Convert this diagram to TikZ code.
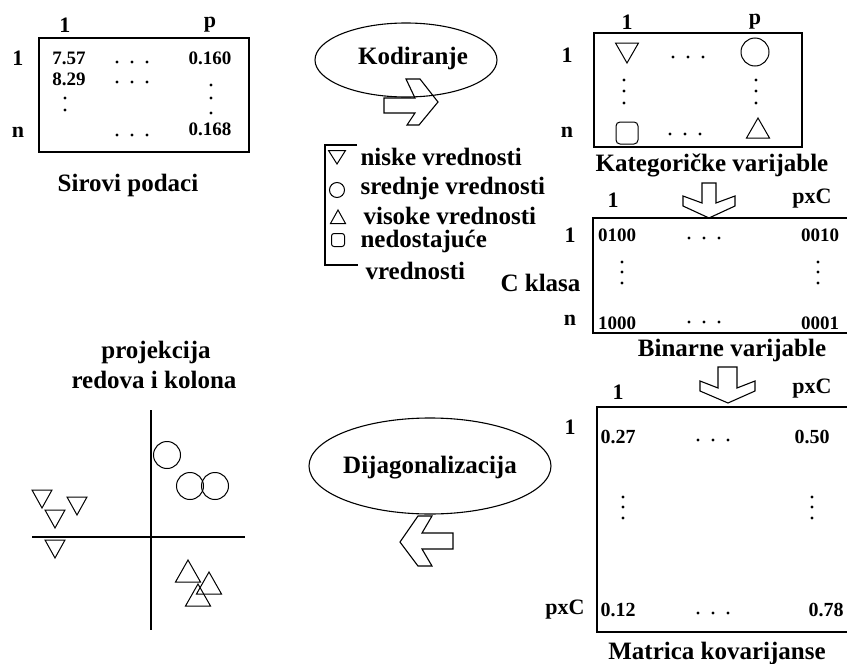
\documentclass[tikz,border=0pt]{standalone}
\usepackage{fontspec}
\setmainfont{Liberation Serif}
\usetikzlibrary{shapes.geometric}
\newcommand\hdts[2]{\foreach \d in {-15,0,15}{\fill ({#1+\d},{#2}) circle[radius=1.6pt];}}
\newcommand\vdts[4]{\foreach \yy in {#2,#3,#4}{\fill (#1,\yy) circle[radius=1.6pt];}}
\begin{document}
\begin{tikzpicture}[x=1pt,y=-1pt,line width=1.1pt,
 lab/.style={font=\bfseries\fontsize{25}{27}\selectfont, inner sep=0pt},
 hdr/.style={font=\bfseries\fontsize{22}{24}\selectfont, inner sep=0pt},
 val/.style={font=\bfseries\fontsize{19}{21}\selectfont, inner sep=0pt},
 valb/.style={font=\bfseries\fontsize{20}{22}\selectfont, inner sep=0pt},
 leg/.style={font=\bfseries\fontsize{25}{27}\selectfont, inner sep=0pt, anchor=west},
 ell/.style={draw, ellipse, inner sep=0pt},
 sym/.style={line width=1pt},
]
\useasboundingbox (0,0) rectangle (847,664);

% ---------- Sirovi podaci ----------
\draw (39,38) rectangle (249,152);
\node[hdr] (a1) at (65,25) {1};
\node[hdr] (ap) at (210,25) {p};
\node[hdr] (ar1) at (18,58) {1};
\node[hdr] (arn) at (18,132) {n};
\node[val] (a11) at (69,58) {7.57};
\node[val] (a21) at (69,79) {8.29};
\node[val] (a1p) at (210,58) {0.160};
\node[val] (anp) at (210,129) {0.168};
\hdts{132}{62}
\hdts{132}{82}
\hdts{132}{135}
\fill (65,98) circle[radius=1.6pt];
\fill (65,110) circle[radius=1.6pt];
\vdts{211}{85}{98}{113}
\node[lab] (sirovi) at (128,185) {Sirovi podaci};

% ---------- Kodiranje ----------
\node[ell, minimum width=182pt, minimum height=74pt] (kod) at (406,60) {};
\node[lab] (kodt) at (413,58) {Kodiranje};
\draw[line join=miter] (384,98) -- (415,98) -- (406,79) -- (420,79) -- (438,102) -- (419,125) -- (407,125) -- (415,113) -- (384,113) -- cycle;

% ---------- Legend ----------
\draw (357,145) -- (325,145) -- (325,265) -- (358,265);
\draw[sym] (328.5,150.5) -- (345.5,150.5) -- (337,164) -- cycle;
\draw[sym] (337,190) circle[radius=7.5pt];
\draw[sym] (338,210) -- (345.5,223.5) -- (330.5,223.5) -- cycle;
\draw[sym, rounded corners=2.5pt] (331.5,233.5) rectangle (344.5,246.5);
\node[leg] (l1) at (360,157) {niske vrednosti};
\node[leg] (l2) at (360,188) {srednje vrednosti};
\node[leg] (l3) at (363,216) {visoke vrednosti};
\node[leg] (l4) at (360,241) {nedostajuće};
\node[leg] (l5) at (365,271) {vrednosti};

% ---------- Kategoricke varijable ----------
\draw (594,33) rectangle (802,147);
\node[hdr] (b1) at (627,22) {1};
\node[hdr] (bp) at (755,22) {p};
\node[hdr] (br1) at (567,55) {1};
\node[hdr] (brn) at (567,132) {n};
\draw[sym] (615.5,43) -- (638.5,43) -- (627,63) -- cycle;
\draw[sym] (755,52) circle[radius=14pt];
\draw[sym, rounded corners=4pt] (616,122) rectangle (638,144);
\draw[sym] (758,118) -- (769.5,138) -- (746.5,138) -- cycle;
\hdts{688}{57}
\hdts{685}{134}
\vdts{624}{80}{91}{103}
\vdts{756}{80}{91}{103}
\node[lab] (kat) at (712,165) {Kategoričke varijable};

% down arrow 1
\draw[line join=miter] (702,183) -- (716,183) -- (716,203) -- (735,196) -- (735,206) -- (709,218) -- (683,206) -- (683,196) -- (702,203) -- cycle;

% ---------- Binarne varijable ----------
\draw (847,218) -- (593,218) -- (593,333) -- (847,333);
\node[hdr] (c1) at (613,200) {1};
\node[hdr] (cp) at (812,199) {pxC};
\node[hdr] (cr1) at (570,235) {1};
\node[lab, anchor=east] (crc) at (581,283) {C klasa};
\node[hdr] (crn) at (570,320) {n};
\node[val] (c11) at (617,235) {0100};
\node[val] (c1p) at (820,235) {0010};
\node[val] (cn1) at (617,323) {1000};
\node[val] (cnp) at (820,323) {0001};
\hdts{704}{238}
\hdts{704}{322}
\vdts{622}{262}{272}{283}
\vdts{818}{262}{272}{283}
\node[lab] (bin) at (732,350) {Binarne varijable};

% down arrow 2
\draw[line join=miter] (718,367) -- (737,367) -- (737,388) -- (755,381) -- (755,391) -- (728,403) -- (700,391) -- (700,381) -- (718,388) -- cycle;

% ---------- Matrica kovarijanse ----------
\draw (847,407) -- (597,407) -- (597,632) -- (847,632);
\node[hdr] (d1) at (618,392) {1};
\node[hdr] (dp) at (812,389) {pxC};
\node[hdr] (dr1) at (570,427) {1};
\node[hdr] (drp) at (565,610) {pxC};
\node[valb] (d11) at (618,437) {0.27};
\node[valb] (d1p) at (812,437) {0.50};
\node[valb] (dp1) at (618,610) {0.12};
\node[valb] (dpp) at (826,610) {0.78};
\hdts{713}{440}
\hdts{713}{613}
\vdts{623}{497}{507}{518}
\vdts{812}{497}{507}{518}
\node[lab] (mat) at (717,653) {Matrica kovarijanse};

% ---------- Dijagonalizacija ----------
\node[ell, minimum width=242pt, minimum height=96pt] (dij) at (430,466) {};
\node[lab] (dijt) at (430,468) {Dijagonalizacija};
\draw[line join=miter] (400,542) -- (418,516) -- (432,516) -- (422,533) -- (453,533) -- (453,549) -- (422,549) -- (432,566) -- (418,566) -- cycle;

% ---------- Projekcija ----------
\node[lab] (pr1) at (156,352) {projekcija};
\node[lab] (pr2) at (154,380) {redova i kolona};
\coordinate (vt) at (151,410);
\coordinate (vb) at (151,630);
\coordinate (hl) at (32,537);
\coordinate (hr) at (245,537);
\draw (vt) -- (vb);
\draw (hl) -- (hr);
\foreach \cx/\cy in {167/455,190/486,215/486}{\draw[sym] (\cx,\cy) circle[radius=13.5pt];}
\foreach \cx/\cy in {42/499,77/506,55/519,55/549}{\draw[sym] ({\cx-10},{\cy-9}) -- ({\cx+10},{\cy-9}) -- (\cx,{\cy+9}) -- cycle;}
\foreach \cx/\cy in {188/571,209/583,198/595}{\draw[sym] (\cx,{\cy-11}) -- ({\cx+12.5},{\cy+11}) -- ({\cx-12.5},{\cy+11}) -- cycle;}
\end{tikzpicture}
\end{document}
